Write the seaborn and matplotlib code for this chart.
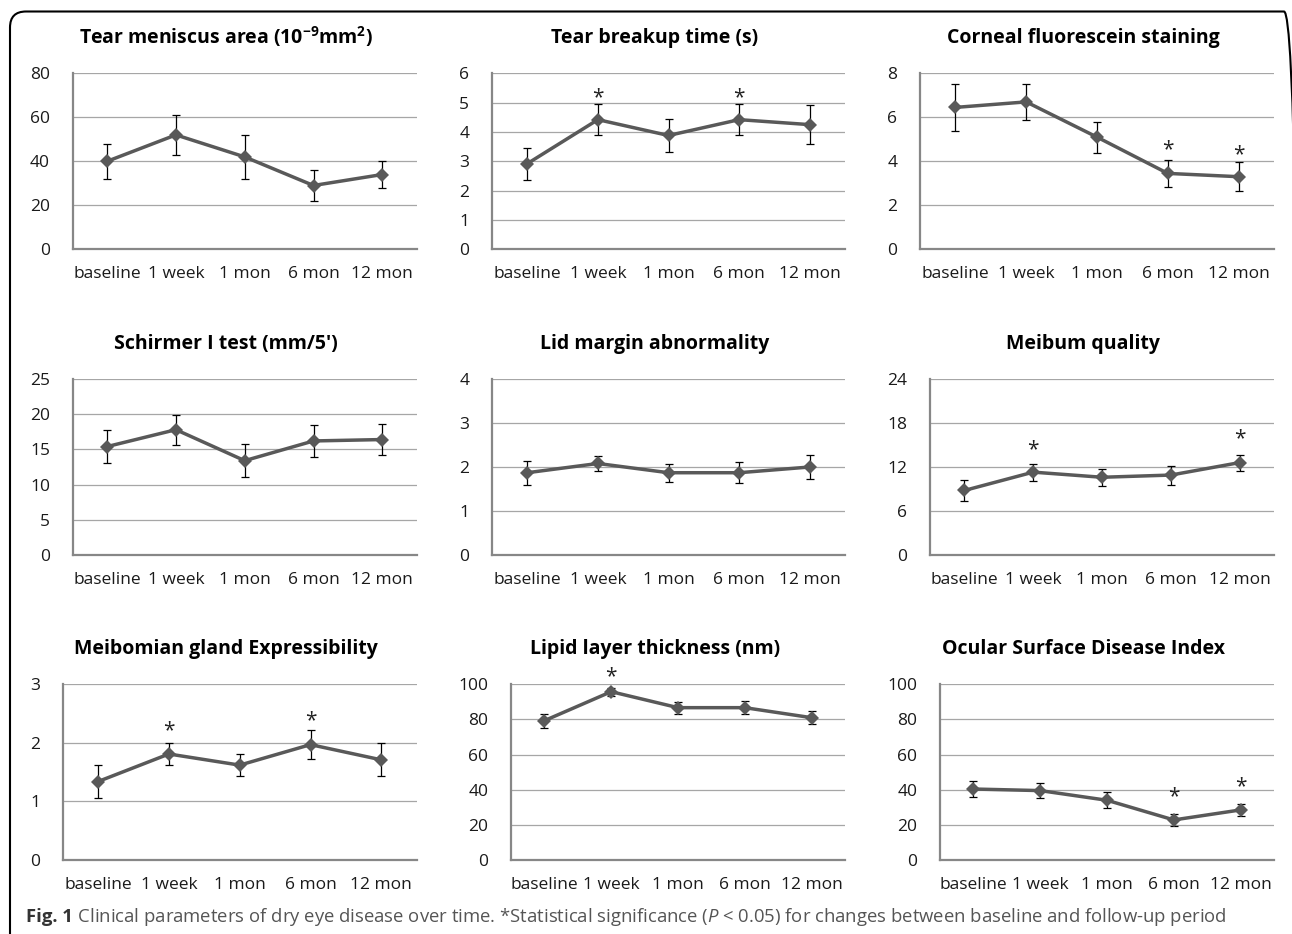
import numpy as np
import pandas as pd
import matplotlib
matplotlib.use('Agg')
import matplotlib.pyplot as plt
import seaborn as sns
from matplotlib.patches import FancyBboxPatch
from matplotlib.transforms import IdentityTransform
from matplotlib.ticker import FixedLocator

# time points shared by all nine panels
time_points = ['baseline', '1 week', '1 mon', '6 mon', '12 mon']

# values: mean, +/- error, height of the * marks (None = no star)
tma_mean = [40, 52, 42, 29, 34]
tma_err = [8, 9, 10, 7, 6]
tma_star = [None, None, None, None, None]

tbut_mean = [2.92, 4.42, 3.88, 4.42, 4.25]
tbut_err = [0.55, 0.53, 0.55, 0.53, 0.67]
tbut_star = [None, 5.32, None, 5.32, None]

cfs_mean = [6.45, 6.7, 5.1, 3.45, 3.3]
cfs_err = [1.05, 0.8, 0.7, 0.6, 0.67]
cfs_star = [None, None, None, 4.71, 4.51]

schirmer_mean = [15.4, 17.8, 13.4, 16.2, 16.4]
schirmer_err = [2.3, 2.15, 2.35, 2.3, 2.2]
schirmer_star = [None, None, None, None, None]

lid_mean = [1.87, 2.08, 1.87, 1.87, 2.0]
lid_err = [0.27, 0.18, 0.2, 0.24, 0.28]
lid_star = [None, None, None, None, None]

meibum_mean = [8.8, 11.3, 10.6, 10.9, 12.6]
meibum_err = [1.4, 1.15, 1.15, 1.3, 1.1]
meibum_star = [None, 15.0, None, None, 16.4]

mge_mean = [1.34, 1.81, 1.62, 1.97, 1.71]
mge_err = [0.28, 0.19, 0.19, 0.25, 0.28]
mge_star = [None, 2.28, None, 2.45, None]

llt_mean = [79.3, 95.8, 86.7, 86.7, 81.0]
llt_err = [4.0, 2.3, 3.5, 3.7, 3.8]
llt_star = [None, 107, None, None, None]

osdi_mean = [40.4, 39.5, 34.0, 22.8, 28.5]
osdi_err = [4.3, 4.2, 4.5, 3.6, 3.4]
osdi_star = [None, None, None, 38.5, 44.2]

titles = ['Tear meniscus area (10$^{-9}$mm$^{2}$)', 'Tear breakup time (s)', 'Corneal fluorescein staining',
          "Schirmer I test (mm/5')", 'Lid margin abnormality', 'Meibum quality',
          'Meibomian gland Expressibility', 'Lipid layer thickness (nm)', 'Ocular Surface Disease Index']
y_max = [80, 6, 8, 25, 4, 24, 3, 100, 100]
y_step = [20, 1, 2, 5, 1, 6, 1, 20, 20]

panels = [(tma_mean, tma_err, tma_star), (tbut_mean, tbut_err, tbut_star), (cfs_mean, cfs_err, cfs_star),
          (schirmer_mean, schirmer_err, schirmer_star), (lid_mean, lid_err, lid_star),
          (meibum_mean, meibum_err, meibum_star), (mge_mean, mge_err, mge_star),
          (llt_mean, llt_err, llt_star), (osdi_mean, osdi_err, osdi_star)]

sns.set_style('white')
plt.rcParams['font.family'] = ['Open Sans', 'DejaVu Sans']
plt.rcParams['mathtext.default'] = 'regular'
plt.rcParams['mathtext.fontset'] = 'custom'
plt.rcParams['mathtext.it'] = 'Open Sans:italic'

W, H = 1292, 934
fig = plt.figure(figsize=(W / 100, H / 100), dpi=100)
fig.patch.set_facecolor('white')

# axes boxes in pixels (Excel style layout)
lefts = [[72.7, 492, 920], [72.7, 492, 930], [62.7, 511, 940]]
rights = [416.7, 845, 1274]
tops = [73.3, 379, 684.3]
bottoms = [249.3, 555, 860]
title_x = [226, 655, 1083]
title_base = [43.5, 349, 654]

LINE = '#595959'
AXIS = '#878787'
GRID = '#a6a6a6'

for k, (mean, err, star) in enumerate(panels):
    r, c = divmod(k, 3)
    l, rt, t, b = lefts[r][c], rights[c], tops[r], bottoms[r]
    ax = fig.add_axes([l / W, 1 - b / H, (rt - l) / W, (b - t) / H])

    df = pd.DataFrame({'time': time_points, 'value': mean, 'err': err})
    ax.errorbar(df['time'], df['value'], yerr=df['err'], fmt='none', ecolor='black',
                elinewidth=0.9, capsize=3.2, capthick=0.9, zorder=2)
    sns.lineplot(data=df, x='time', y='value', ax=ax, sort=False, color=LINE, linewidth=2.5,
                 marker='D', markersize=7, markeredgecolor=LINE, markeredgewidth=0, zorder=3)

    for i, s in enumerate(star):
        if s is not None:
            ax.annotate('*', xy=(time_points[i], s), xytext=(0, -7), textcoords='offset points',
                        ha='center', va='baseline', fontsize=15, color='#222222', annotation_clip=False)

    ax.set_xlim(-0.5, len(time_points) - 0.5)
    ax.set_ylim(0, y_max[k])
    ax.set_yticks(np.arange(0, y_max[k] + y_step[k] / 2, y_step[k]))
    ax.xaxis.set_minor_locator(FixedLocator([len(time_points) - 0.5]))
    ax.set_xlabel('')
    ax.set_ylabel('')

    ax.yaxis.grid(True, color=GRID, linewidth=0.9)
    ax.xaxis.grid(False)
    for sp in ['top', 'right']:
        ax.spines[sp].set_visible(False)
    for sp in ['left', 'bottom']:
        ax.spines[sp].set_color(AXIS)
        ax.spines[sp].set_linewidth(1.6)
    ax.tick_params(axis='x', which='both', direction='out', length=4, width=1, color=AXIS,
                   labelsize=12.5, labelcolor='#1a1a1a', pad=8)
    ax.tick_params(axis='y', direction='out', length=4.3, width=0.9, color=GRID,
                   labelsize=12.5, labelcolor='#1a1a1a', pad=12)

    fig.text(title_x[c] / W, 1 - title_base[r] / H, titles[k], ha='center', va='baseline',
             fontsize=14, fontweight='bold', color='black')

# rounded frame around the figure panel (right and bottom sides run off the page)
frame = FancyBboxPatch((10, -30), 1290, 952.5, boxstyle='round,pad=0,rounding_size=16',
                       transform=IdentityTransform(), fill=False, edgecolor='black', linewidth=1.5)
fig.add_artist(frame)

# caption
cap1 = fig.text(26 / W, 1 - 917 / H, 'Fig. 1', fontsize=13.3, fontweight='bold', color='#333333',
                va='center')
plt.annotate(' Clinical parameters of dry eye disease over time. *Statistical significance ($\\mathit{P}$ < 0.05) '
             'for changes between baseline and follow-up period',
             xy=(1, 0.5), xycoords=cap1, va='center', ha='left', fontsize=13.3, color='#555555',
             annotation_clip=False)

fig.savefig('out.png', dpi=100)
